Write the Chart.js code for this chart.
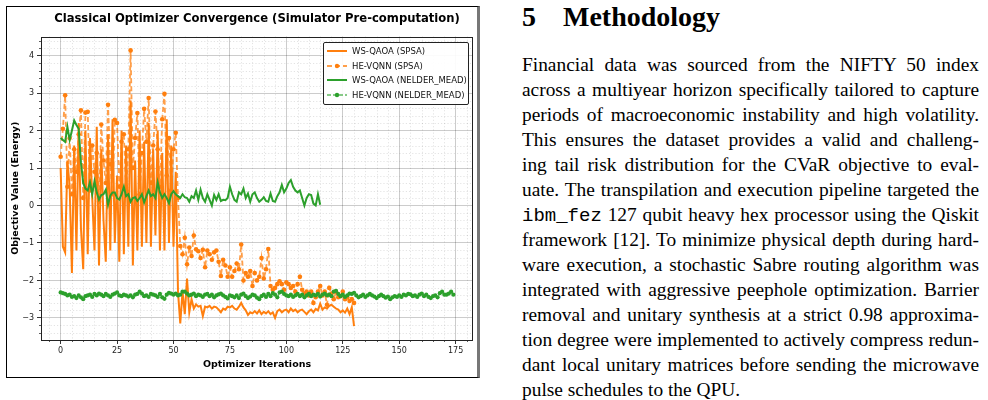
<!DOCTYPE html>
<html><head><meta charset="utf-8">
<script src="https://cdn.jsdelivr.net/npm/chart.js@4/dist/chart.umd.min.js"></script>
<style>
html,body{margin:0;padding:0;background:#fff;width:988px;height:400px;overflow:hidden;}
#chartWrap{position:absolute;left:0;top:0;width:485px;height:385px;}
#frame{position:absolute;left:6px;top:6px;width:470px;height:370px;border:1px solid #000;border-right:3px solid #777;pointer-events:none;}
#legend{position:absolute;left:323px;top:42px;width:144px;height:61px;border:1px solid #222;background:rgba(255,255,255,0.92);border-radius:2px;font-family:"DejaVu Sans",sans-serif;font-size:8.5px;color:#111;}
#legend .row{position:absolute;left:3px;height:12px;white-space:nowrap;}
#legend svg{position:absolute;left:0;top:0;}
#legend span{position:absolute;left:25px;top:0;line-height:12px;}
#heading{position:absolute;left:522px;top:3px;font-weight:bold;font-size:28px;line-height:28px;white-space:nowrap;color:#000;}
#heading .num{display:inline-block;width:41px;}
#para{position:absolute;left:522px;top:52px;width:457px;font-size:19.4px;line-height:25px;color:#000;}
#para .ln{white-space:nowrap;height:25px;}
#para .ln span.t{display:inline-block;}
</style></head>
<body>
<div id="chartWrap"><canvas id="c"></canvas></div>
<div id="frame"></div>
<div id="legend"></div>
<div id="heading"><span class="num">5</span>Methodology</div>
<div id="para"></div>
<script>
// ---------------- DATA ----------------
const iterationTicks = [0, 25, 50, 75, 100, 125, 150, 175];
const energyTicks = [-3, -2, -1, 0, 1, 2, 3, 4];

const seriesLabels = ["WS-QAOA (SPSA)", "HE-VQNN (SPSA)", "WS-QAOA (NELDER_MEAD)", "HE-VQNN (NELDER_MEAD)"];

const wsQaoaSpsa = [
 1.0,-1.1,-1.25,1.2,0.5,-1.8,1.6,-1.2,2.2,-0.6,
 -1.7,2.0,-1.3,1.8,0.2,-1.2,2.1,-1.6,1.5,-0.4,
 -1.5,1.9,-1.2,2.3,-1.0,0.8,-1.5,2.0,-1.3,1.6,
 -1.1,2.8,-1.6,1.2,-1.2,2.0,-1.1,1.7,-1.0,2.2,
 -1.1,1.5,-0.8,2.0,-1.2,1.4,-1.2,2.3,-1.0,1.6,
 -1.1,0.9,-2.3,-3.15,-2.3,-2.9,-1.95,-2.85,-2.5,-2.75,
 -2.64,-2.7,-2.68,-2.95,-2.7,-2.72,-2.68,-2.75,-2.7,-2.72,
 -2.78,-2.85,-2.75,-2.78,-2.7,-2.72,-2.68,-2.75,-2.78,-2.7,
 -2.6,-2.72,-2.8,-2.92,-2.85,-2.88,-2.82,-2.88,-2.8,-2.9,
 -2.84,-2.88,-2.82,-2.9,-2.85,-3.0,-2.82,-2.78,-2.85,-2.8,
 -2.78,-2.85,-2.75,-2.82,-2.78,-2.85,-2.8,-2.78,-2.84,-2.9,
 -2.82,-2.78,-2.85,-2.76,-2.8,-2.62,-2.78,-2.72,-2.75,-2.68,
 -2.65,-2.7,-2.75,-2.78,-2.85,-2.8,-2.86,-2.75,-2.9,-2.72,
 -3.22
];

const heVqnnSpsa = [
 1.3,2.05,2.94,0.5,1.8,0.3,1.5,0.9,1.9,2.54,
 0.2,2.48,2.5,0.4,1.6,0.9,1.4,0.1,2.16,1.2,
 0.6,2.69,1.1,0.3,2.29,2.2,0.5,1.7,1.9,0.4,
 1.5,4.14,1.0,1.8,2.47,0.3,1.4,2.58,1.7,2.87,
 0.6,1.6,2.51,1.5,0.5,2.3,2.98,0.8,1.8,0.4,
 1.5,1.94,0.2,-1.08,-1.3,-0.86,-1.57,-1.12,-1.35,-0.8,
 -1.17,-1.22,-1.4,-1.18,-1.65,-1.2,-1.3,-1.45,-1.25,-1.2,
 -1.5,-1.88,-1.45,-1.6,-1.9,-1.65,-1.9,-1.75,-1.55,-1.7,
 -1.04,-2.0,-1.8,-1.9,-1.75,-2.15,-1.8,-2.0,-1.9,-1.4,
 -1.95,-1.7,-1.16,-2.15,-2.25,-2.2,-2.1,-2.02,-2.1,-2.25,
 -2.05,-2.1,-2.2,-2.15,-2.3,-2.1,-1.9,-2.25,-2.35,-2.3,
 -2.4,-2.3,-2.6,-2.45,-2.3,-2.15,-2.4,-2.3,-2.65,-2.2,
 -2.35,-2.5,-2.3,-2.45,-2.42,-2.3,-2.5,-2.45,-2.55,-2.5,
 -2.6
];

const wsQaoaNelderMead = [
 1.8,1.75,1.7,2.1,1.75,2.0,2.27,2.15,2.05,1.15,
 0.6,0.45,0.4,0.62,0.3,0.65,0.35,0.16,0.28,0.3,
 0.42,0.02,0.26,0.35,0.35,0.2,0.16,0.3,0.5,0.25,
 0.3,0.1,0.2,0.22,0.12,0.2,0.3,0.08,0.25,0.4,
 0.25,0.3,0.2,0.62,0.35,0.2,0.3,0.2,0.06,0.3,
 0.38,0.3,0.25,0.2,0.3,0.22,0.2,0.1,0.25,0.2,
 0.4,0.15,0.42,0.2,0.1,0.3,0.15,0.0,0.28,0.15,
 0.3,0.12,0.15,0.14,0.2,0.5,0.3,0.15,0.1,0.35,
 0.3,0.45,0.2,0.32,0.1,0.3,0.35,0.2,0.1,0.15,
 0.22,0.12,0.1,0.32,0.12,0.1,0.25,0.35,0.55,0.35,
 0.45,0.6,0.68,0.5,0.4,0.35,0.4,0.2,0.0,0.2,
 0.3,0.28,0.05,0.0,0.3,0.02
];

const heVqnnNelderMead = [
 -2.32,-2.34,-2.36,-2.4,-2.38,-2.44,-2.42,-2.47,-2.4,-2.45,
 -2.5,-2.42,-2.4,-2.38,-2.44,-2.36,-2.4,-2.35,-2.38,-2.42,
 -2.36,-2.4,-2.44,-2.38,-2.35,-2.32,-2.4,-2.42,-2.38,-2.4,
 -2.43,-2.4,-2.45,-2.38,-2.36,-2.3,-2.35,-2.42,-2.4,-2.44,
 -2.36,-2.38,-2.4,-2.44,-2.36,-2.45,-2.49,-2.38,-2.33,-2.35,
 -2.38,-2.35,-2.4,-2.38,-2.3,-2.3,-2.35,-2.4,-2.38,-2.35,
 -2.42,-2.38,-2.4,-2.44,-2.38,-2.36,-2.42,-2.38,-2.45,-2.4,
 -2.37,-2.35,-2.4,-2.44,-2.48,-2.4,-2.42,-2.45,-2.4,-2.47,
 -2.38,-2.35,-2.42,-2.47,-2.43,-2.38,-2.4,-2.46,-2.5,-2.42,
 -2.38,-2.44,-2.36,-2.42,-2.34,-2.38,-2.45,-2.32,-2.3,-2.36,
 -2.4,-2.42,-2.38,-2.44,-2.4,-2.36,-2.42,-2.38,-2.45,-2.4,
 -2.36,-2.42,-2.38,-2.4,-2.36,-2.43,-2.38,-2.35,-2.4,-2.38,
 -2.42,-2.3,-2.28,-2.36,-2.42,-2.38,-2.44,-2.4,-2.35,-2.36,
 -2.33,-2.4,-2.45,-2.42,-2.38,-2.44,-2.4,-2.36,-2.4,-2.43,
 -2.47,-2.42,-2.38,-2.42,-2.46,-2.43,-2.5,-2.45,-2.42,-2.44,
 -2.4,-2.44,-2.38,-2.4,-2.36,-2.37,-2.42,-2.4,-2.44,-2.38,
 -2.35,-2.42,-2.38,-2.44,-2.47,-2.42,-2.4,-2.45,-2.34,-2.3,
 -2.38,-2.38,-2.35,-2.3,-2.38
];

const paragraphLines = [
 "Financial data was sourced from the NIFTY 50 index",
 "across a multiyear horizon specifically tailored to capture",
 "periods of macroeconomic instability and high volatility.",
 "This ensures the dataset provides a valid and challeng-",
 "ing tail risk distribution for the CVaR objective to eval-",
 "uate. The transpilation and execution pipeline targeted the",
 "{ibm_fez} 127 qubit heavy hex processor using the Qiskit",
 "framework [12]. To minimize physical depth during hard-",
 "ware execution, a stochastic Sabre routing algorithm was",
 "integrated with aggressive peephole optimization. Barrier",
 "removal and unitary synthesis at a strict 0.98 approxima-",
 "tion degree were implemented to actively compress redun-",
 "dant local unitary matrices before sending the microwave",
 "pulse schedules to the QPU."
];

// ---------------- FONT PICK ----------------
function hasFont(name) {
 const c = document.createElement('canvas').getContext('2d');
 const s = 'mmmmmmmmmmlliWWQQ@#0123456789abcdefghijxyz';
 return ['monospace', 'sans-serif', 'serif'].some(b => {
  c.font = '40px ' + b; const w0 = c.measureText(s).width;
  c.font = '40px "' + name + '", ' + b; const w1 = c.measureText(s).width;
  return Math.abs(w0 - w1) > 0.5;
 });
}
const serifCands = ['Liberation Serif', 'Tinos', 'Times New Roman', 'Times', 'Nimbus Roman', 'Nimbus Roman No9 L', 'TeX Gyre Termes', 'FreeSerif'];
const monoCands = ['Liberation Mono', 'Cousine', 'Courier New', 'Nimbus Mono PS', 'FreeMono'];
const serifFont = serifCands.find(hasFont);
const monoFont = monoCands.find(hasFont);
const paraEl = document.getElementById('para');
const headEl = document.getElementById('heading');
if (serifFont) {
 paraEl.style.fontFamily = '"' + serifFont + '", serif';
 headEl.style.fontFamily = '"' + serifFont + '", serif';
} else {
 paraEl.style.fontFamily = '"DejaVu Serif", serif';
 paraEl.style.fontSize = '17px';
 headEl.style.fontFamily = '"DejaVu Serif", serif';
 headEl.style.fontSize = '26px';
}
const monoCss = monoFont ? '"' + monoFont + '", monospace' : '"DejaVu Sans Mono", monospace';
const monoSize = monoFont ? '19px' : '17px';

// ---------------- CHART ----------------
const ORANGE = '#ff7f0e', GREEN = '#2ca02c';
const toPts = arr => arr.map((v, i) => ({x: i, y: v}));

const datasets = [
 {label: seriesLabels[0], data: toPts(wsQaoaSpsa), borderColor: ORANGE, borderWidth: 2, pointRadius: 0, order: 4, legendDash: [], legendMarker: false},
 {label: seriesLabels[1], data: toPts(heVqnnSpsa), borderColor: 'rgba(255,127,14,0.75)', borderWidth: 1.8, borderDash: [5, 3], pointRadius: 2.3, pointBackgroundColor: ORANGE, pointBorderWidth: 0, order: 3, legendDash: [5,3], legendMarker: ORANGE},
 {label: seriesLabels[2], data: toPts(wsQaoaNelderMead), borderColor: GREEN, borderWidth: 2, pointRadius: 0, order: 2, legendDash: [], legendMarker: false},
 {label: seriesLabels[3], data: toPts(heVqnnNelderMead), borderColor: 'rgba(44,160,44,0.75)', borderWidth: 1.6, borderDash: [4, 2], pointRadius: 2.1, pointBackgroundColor: GREEN, pointBorderWidth: 0, order: 1, legendDash: [4,2], legendMarker: GREEN}
];

const minorGrid = {
 id: 'minorGrid',
 beforeDatasetsDraw(chart) {
  const {ctx, chartArea: a, scales: {x, y}} = chart;
  ctx.save();
  ctx.strokeStyle = 'rgba(0,0,0,0.14)';
  ctx.lineWidth = 0.8;
  ctx.setLineDash([1.2, 2]);
  const seg = (x1, y1, x2, y2) => { ctx.beginPath(); ctx.moveTo(x1, y1); ctx.lineTo(x2, y2); ctx.stroke(); };
  const xm = [], ym = [];
  for (let v = -5; v <= 185; v += 5) if (v % 25 !== 0) { const p = x.getPixelForValue(v); if (p > a.left && p < a.right) xm.push(Math.round(p) + 0.5); }
  for (let k = -20; k <= 25; k++) if (k % 5 !== 0) { const p = y.getPixelForValue(k * 0.2); if (p > a.top && p < a.bottom) ym.push(Math.round(p) + 0.5); }
  xm.forEach(p => seg(p, a.top, p, a.bottom));
  ym.forEach(p => seg(a.left, p, a.right, p));
  ctx.setLineDash([]);
  ctx.strokeStyle = '#333';
  ctx.lineWidth = 0.8;
  xm.forEach(p => seg(p, a.bottom, p, a.bottom + 2));
  ym.forEach(p => seg(a.left - 2, p, a.left, p));
  ctx.restore();
 },
 afterDatasetsDraw(chart) {
  const {ctx, chartArea: a} = chart;
  ctx.save();
  ctx.strokeStyle = '#222';
  ctx.lineWidth = 1;
  ctx.strokeRect(Math.round(a.left) + 0.5, Math.round(a.top) + 0.5, Math.round(a.right - a.left) - 1, Math.round(a.bottom - a.top));
  ctx.restore();
 }
};

const minus = v => (v < 0 ? '\u2212' + Math.abs(v) : String(v));

new Chart(document.getElementById('c'), {
 type: 'line',
 data: {datasets},
 options: {
  responsive: true, maintainAspectRatio: false, animation: false,
  layout: {padding: {left: 0, right: 12, top: 0, bottom: 0}},
  elements: {line: {tension: 0}},
  plugins: {
   legend: {display: false},
   tooltip: {enabled: false},
   title: {display: true, fullSize: false, text: 'Classical Optimizer Convergence (Simulator Pre-computation)', color: '#000',
    font: {family: 'DejaVu Sans', size: 11.6, weight: 'bold'}, padding: {top: 12, bottom: 10.6}}
  },
  scales: {
   x: {type: 'linear', min: -8.7, max: 182.7,
    afterBuildTicks: s => { s.ticks = iterationTicks.map(v => ({value: v})); },
    afterFit: s => { s.height = 45; },
    ticks: {color: '#222', font: {family: 'DejaVu Sans', size: 8}, padding: 2, maxRotation: 0, autoSkip: false},
    grid: {color: 'rgba(0,0,0,0.2)', lineWidth: 1, tickLength: 4, tickColor: '#333', tickWidth: 1},
    border: {display: false},
    title: {display: true, text: 'Optimizer Iterations', color: '#000', font: {family: 'DejaVu Sans', size: 9.5, weight: 'bold'}, padding: {top: 0, bottom: 15}}
   },
   y: {type: 'linear', min: -3.59, max: 4.51,
    afterBuildTicks: s => { s.ticks = energyTicks.map(v => ({value: v})); },
    afterFit: s => { s.width = 41; },
    ticks: {color: '#222', font: {family: 'DejaVu Sans', size: 8}, padding: 3, callback: v => minus(v), autoSkip: false},
    grid: {color: 'rgba(0,0,0,0.2)', lineWidth: 1, tickLength: 4, tickColor: '#333', tickWidth: 1},
    border: {display: false},
    title: {display: true, text: 'Objective Value (Energy)', color: '#000', font: {family: 'DejaVu Sans', size: 9.5, weight: 'bold'}, padding: {top: 10, bottom: 0}}
   }
  }
 },
 plugins: [minorGrid]
});

// ---------------- LEGEND (HTML) ----------------
const leg = document.getElementById('legend');
datasets.forEach((d, i) => {
 const row = document.createElement('div');
 row.className = 'row';
 row.style.top = (2 + i * 14.6) + 'px';
 const dash = d.legendDash.length ? `stroke-dasharray="${d.legendDash.join(',')}"` : '';
 const mk = d.legendMarker ? `<circle cx="10" cy="6" r="2.2" fill="${d.legendMarker}"/>` : '';
 row.innerHTML = `<svg width="22" height="12"><line x1="0" y1="6" x2="20" y2="6" stroke="${d.borderColor}" stroke-width="${d.borderWidth}" ${dash}/>${mk}</svg><span>${d.label}</span>`;
 leg.appendChild(row);
});

// ---------------- TEXT ----------------
paragraphLines.forEach((t, i) => {
 const ln = document.createElement('div');
 ln.className = 'ln';
 const sp = document.createElement('span');
 sp.className = 't';
 sp.innerHTML = t.replace('{ibm_fez}', `<span style='font-family:${monoCss};font-size:${monoSize}'>ibm_fez</span>`);
 ln.appendChild(sp);
 paraEl.appendChild(ln);
 if (i < paragraphLines.length - 1) {
  const w = sp.getBoundingClientRect().width;
  const spaces = (t.match(/ /g) || []).length;
  if (spaces) sp.style.wordSpacing = ((457 - w) / spaces) + 'px';
 }
});
</script>
</body></html>
